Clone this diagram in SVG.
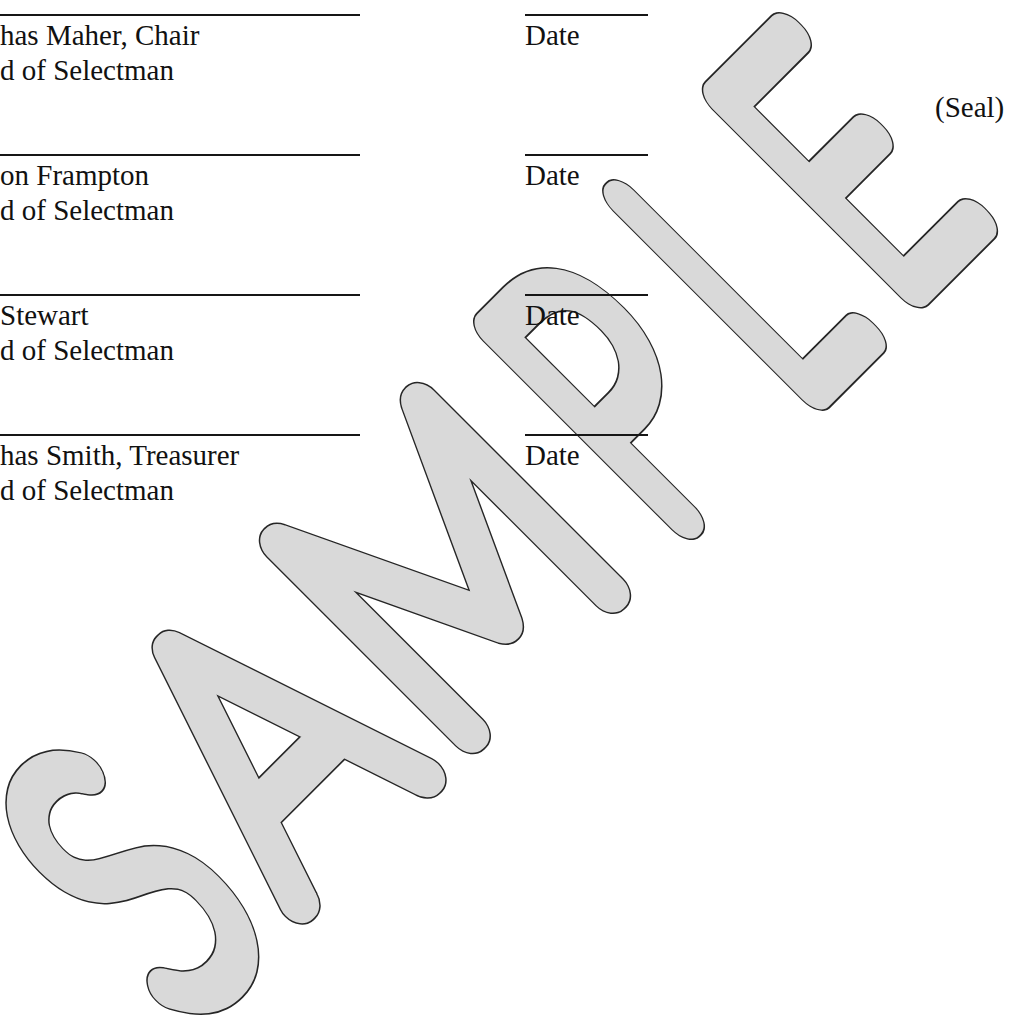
<svg xmlns="http://www.w3.org/2000/svg" width="1013" height="1024" viewBox="0 0 1013 1024">
<style>
.t{font-family:"Liberation Serif","Times New Roman",serif;font-size:29px;fill:#111111}
.ln{stroke:#161616;stroke-width:2}
.wm{font-family:Lato,Roboto,Inter,"DejaVu Sans",sans-serif;font-weight:100;font-size:382px;text-anchor:middle}
.wo{fill:#262626;stroke:#262626;stroke-width:41;stroke-linejoin:round;stroke-linecap:round}
.wi{fill:#d9d9d9;stroke:#d9d9d9;stroke-width:38;stroke-linejoin:round;stroke-linecap:round}
</style>
<defs>
<text id="wS" class="wm" vector-effect="non-scaling-stroke" transform="translate(-530,850) scale(0.65,1)">S</text>
<text id="wA" class="wm" vector-effect="non-scaling-stroke" transform="translate(-338,850) scale(0.8,1)">A</text>
<text id="wM" class="wm" vector-effect="non-scaling-stroke" transform="translate(-87,850) scale(0.8,1)">M</text>
<text id="wP" class="wm" vector-effect="non-scaling-stroke" transform="translate(154,850) scale(0.62,1)">P</text>
<text id="wL" class="wm" vector-effect="non-scaling-stroke" transform="translate(326,850) scale(0.55,1)">L</text>
<text id="wE" class="wm" vector-effect="non-scaling-stroke" transform="translate(481,848) scale(0.6,1)">E</text>
</defs>
<rect width="1013" height="1024" fill="#ffffff"/>
<g id="watermark" transform="rotate(-45)">
<g class="wo"><use href="#wS"/><use href="#wA"/><use href="#wM"/><use href="#wP"/><use href="#wL"/><use href="#wE"/></g>
<g class="wi"><use href="#wS"/><use href="#wA"/><use href="#wM"/><use href="#wP"/><use href="#wL"/><use href="#wE"/></g>
</g>
<g id="lines">
<line class="ln" x1="0" y1="15" x2="360" y2="15"/>
<line class="ln" x1="0" y1="155" x2="360" y2="155"/>
<line class="ln" x1="0" y1="295" x2="360" y2="295"/>
<line class="ln" x1="0" y1="435" x2="360" y2="435"/>
<line class="ln" x1="525" y1="15" x2="648" y2="15"/>
<line class="ln" x1="525" y1="155" x2="648" y2="155"/>
<line class="ln" x1="525" y1="295" x2="648" y2="295"/>
<line class="ln" x1="525" y1="435" x2="648" y2="435"/>
</g>
<g id="sig1"><text class="t" x="0" y="45">has Maher, Chair</text><text class="t" x="0" y="80">d of Selectman</text></g>
<g id="sig2"><text class="t" x="0" y="185">on Frampton</text><text class="t" x="0" y="220">d of Selectman</text></g>
<g id="sig3"><text class="t" x="0" y="325">Stewart</text><text class="t" x="0" y="360">d of Selectman</text></g>
<g id="sig4"><text class="t" x="0" y="465">has Smith, Treasurer</text><text class="t" x="0" y="500">d of Selectman</text></g>
<g id="dates">
<text class="t" x="525" y="45">Date</text>
<text class="t" x="525" y="185">Date</text>
<text class="t" x="525" y="325">Date</text>
<text class="t" x="525" y="465">Date</text>
</g>
<g id="seal"><text class="t" x="935" y="117">(Seal)</text></g>
</svg>
